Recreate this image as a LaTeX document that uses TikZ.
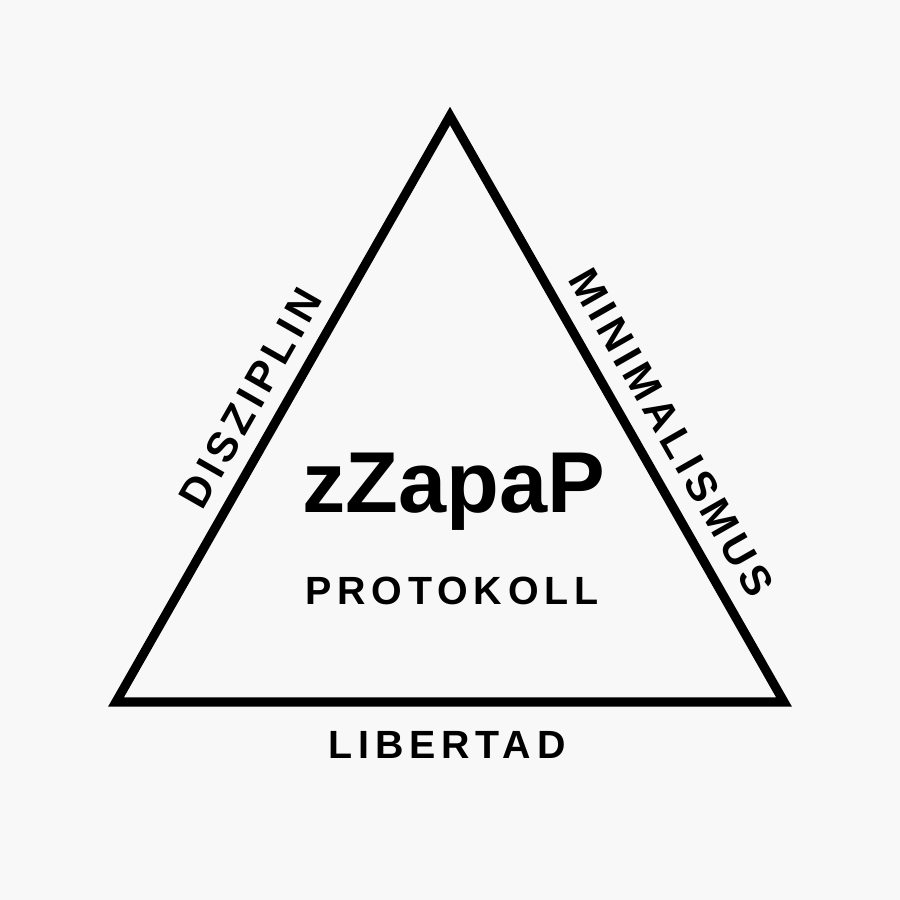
\documentclass[tikz,border=0pt]{standalone}
\usepackage{fontspec}
\setmainfont{Liberation Sans}
\newfontfamily\trackfont[LetterSpace=15]{Liberation Sans}
\newfontfamily\sidefont[LetterSpace=12]{Liberation Sans}
\definecolor{paper}{RGB}{248,248,248}
\begin{document}
\begin{tikzpicture}[scale=1]
	\tikzstyle{every node}+=[inner sep=0pt]
	\tikzstyle{edgelabel}=[sloped, font=\sidefont\bfseries\fontsize{12}{14}\selectfont]
	\fill [paper] (0,0) rectangle (9,9);
	\useasboundingbox (0,0) rectangle (9,9);
	\coordinate (A) at (4.5,7.84);
	\coordinate (B) at (1.16,1.98);
	\coordinate (C) at (7.84,1.98);
	\draw [black, line width=2.6pt, line join=miter] (A) -- (C) -- (B) -- cycle;
	\path (B) -- (A) node [edgelabel, pos=0.49, above=0.18cm] (dis) {DISZIPLIN};
	\path (A) -- (C) node [edgelabel, pos=0.57, above=0.2cm] (mini) {MINIMALISMUS};
	\node (title) at (4.54,3.87) [anchor=base, font=\bfseries\fontsize{24.6}{28}\selectfont] {zZapaP};
	\node (proto) at (4.52,2.95) [anchor=base, font=\trackfont\bfseries\fontsize{11.2}{13}\selectfont] {PROTOKOLL};
	\node (lib) at (4.47,1.42) [anchor=base, font=\trackfont\bfseries\fontsize{11.2}{13}\selectfont] {LIBERTAD};
\end{tikzpicture}
\end{document}
